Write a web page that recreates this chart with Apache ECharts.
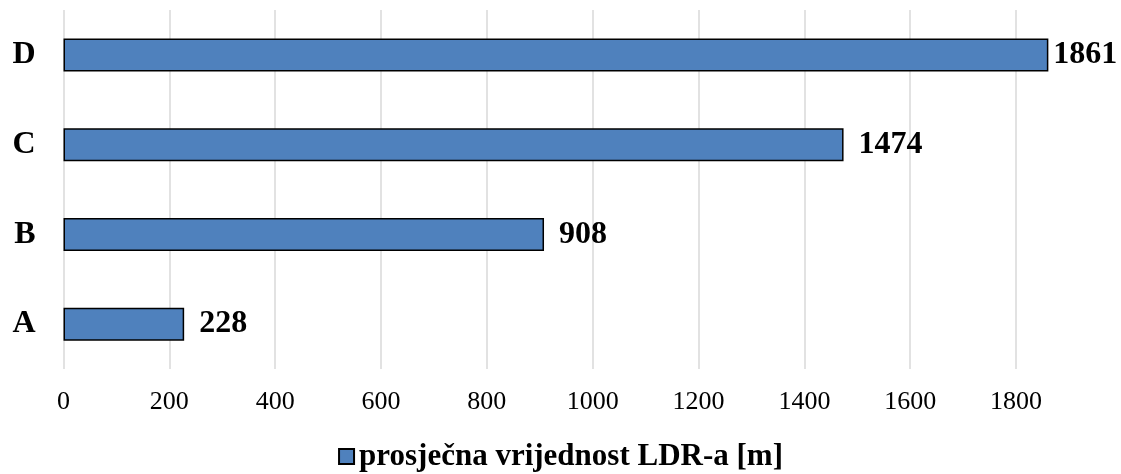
<!DOCTYPE html>
<html>
<head>
<meta charset="utf-8">
<script src="https://cdn.jsdelivr.net/npm/echarts@6/dist/echarts.min.js"></script>
<style>
  html, body { margin: 0; padding: 0; background: #fff; }
  #main { width: 1121px; height: 474px; }
</style>
</head>
<body>
<div id="main"></div>
<script>
const categories = ['A', 'B', 'C', 'D']
const values = [228, 908, 1474, 1861]
const seriesName = 'prosječna vrijednost LDR-a [m]'

const chart = echarts.init(document.getElementById('main'))
const serif = '"Liberation Serif", "DejaVu Serif", serif'

chart.setOption({
  animation: false,
  grid: { left: 63.5, right: 52, top: 10, bottom: 105 },
  legend: {
    bottom: -3,
    left: 'center',
    itemWidth: 15,
    itemHeight: 15,
    itemGap: 6,
    icon: 'rect',
    textStyle: { fontFamily: serif, fontWeight: 'bold', fontSize: 31, color: '#000' },
    data: [seriesName]
  },
  xAxis: {
    type: 'value',
    min: 0,
    max: 1900,
    interval: 200,
    axisLine: { show: false },
    axisTick: { show: false },
    axisLabel: {
      showMaxLabel: false,
      margin: 20,
      fontFamily: serif,
      fontSize: 26,
      color: '#000',
      formatter: v => String(v)
    },
    splitLine: { showMaxLine: false, lineStyle: { color: '#d9d9d9', width: 1.5 } }
  },
  yAxis: {
    type: 'category',
    data: categories,
    axisLine: { show: false },
    axisTick: { show: false },
    axisLabel: {
      margin: 28,
      fontFamily: serif,
      fontWeight: 'bold',
      fontSize: 32,
      color: '#000'
    }
  },
  series: [{
    name: seriesName,
    type: 'bar',
    barWidth: 33,
    itemStyle: { color: '#4f81bd', borderColor: '#000', borderWidth: 1.5 },
    label: {
      show: true,
      position: 'right',
      distance: 15,
      fontFamily: serif,
      fontWeight: 'bold',
      fontSize: 32,
      color: '#000'
    },
    data: values.map((v, i) => i === values.length - 1 ? { value: v, label: { distance: 5 } } : v)
  }]
})
</script>
</body>
</html>
